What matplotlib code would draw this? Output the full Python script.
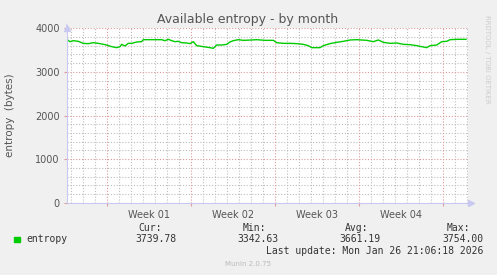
import matplotlib
matplotlib.use("Agg")
import matplotlib.pyplot as plt
import numpy as np

# ---- data ----
days = [0.00, 0.28, 0.55, 0.97, 1.38, 1.80, 2.22, 2.78, 3.33, 3.75, 4.17, 4.44, 4.58, 4.86,
        5.13, 5.42, 5.83, 6.25, 6.38, 6.80, 7.92, 8.19, 8.47, 8.75, 9.03, 9.30, 9.58, 10.00,
        10.28, 10.55, 10.83, 11.38, 11.94, 12.22, 12.50, 12.92, 13.33, 13.61, 13.88, 14.30,
        14.72, 15.28, 15.83, 16.53, 17.22, 17.50, 18.05, 18.61, 19.17, 19.72, 20.13, 20.42,
        21.11, 21.38, 21.94, 22.50, 23.05, 23.61, 24.17, 25.00, 25.55, 25.97, 26.38, 26.94,
        27.50, 28.05, 28.61, 29.17, 29.72, 30.00, 30.28, 30.83, 31.25, 31.67, 31.94, 32.50,
        33.28]
entropy = [3747, 3693, 3716, 3701, 3655, 3648, 3670, 3648, 3617, 3579, 3556, 3579, 3632, 3594,
           3655, 3655, 3686, 3693, 3739, 3739, 3739, 3716, 3747, 3716, 3693, 3701, 3670, 3663,
           3648, 3693, 3602, 3579, 3556, 3541, 3617, 3617, 3632, 3686, 3716, 3739,
           3724, 3730, 3739, 3724, 3724, 3670, 3655, 3655, 3648, 3632, 3602, 3556,
           3556, 3602, 3648, 3678, 3701, 3732, 3739, 3724, 3693, 3732, 3678, 3655,
           3663, 3632, 3625, 3602, 3571, 3556, 3602, 3617, 3693, 3701, 3739, 3747,
           3747]
week_labels = ["Week 01", "Week 02", "Week 03", "Week 04"]
first_week_start = 3.36
span_days = 33.44
y_ticks = [0, 1000, 2000, 3000, 4000]
title = "Available entropy - by month"
ylabel = "entropy  (bytes)"
legend_name = "entropy"
stats_labels = ["Cur:", "Min:", "Avg:", "Max:"]
stats_values = ["3739.78", "3342.63", "3661.19", "3754.00"]
last_update = "Last update: Mon Jan 26 21:06:18 2026"

W, H = 497, 275
fig = plt.figure(figsize=(W / 100, H / 100), dpi=100)
fig.patch.set_facecolor("#f0f0f0")

left_px, right_px, top_px, bottom_px = 66.7, 468, 28.3, 202.7
ax = fig.add_axes([left_px / W, 1 - bottom_px / H, (right_px - left_px) / W, (bottom_px - top_px) / H])
ax.set_facecolor("white")
ax.set_xlim(0, span_days)
ax.set_ylim(0, 4000)

txt = "#555555"
major_col = "#e09a9a"
minor_col = "#bdbdbd"
axis_col = "#c8c8f0"
dots = (0, (1, 1.6))

# grid
minor_x = [first_week_start + k for k in range(-4, 31) if 0 < first_week_start + k < span_days]
major_x = [first_week_start + 7 * k for k in range(5)]
for x in minor_x:
    if min(abs(x - m) for m in major_x) > 0.01:
        ax.axvline(x, color=minor_col, lw=0.8, ls=dots, zorder=1)
for y in range(200, 4000, 200):
    if y % 1000:
        ax.axhline(y, color=minor_col, lw=0.8, ls=dots, zorder=1)
for x in major_x:
    ax.axvline(x, color=major_col, lw=0.8, ls=dots, zorder=1.5)
for y in y_ticks[1:]:
    ax.axhline(y, color=major_col, lw=0.8, ls=dots, zorder=1.5)

ax.plot(days, entropy, color="#00cc00", lw=1.0, zorder=3)

for s in ["top", "right"]:
    ax.spines[s].set_visible(False)
for s in ["left", "bottom"]:
    ax.spines[s].set_color(axis_col)
    ax.spines[s].set_linewidth(0.8)
    ax.spines[s].set_zorder(4)

ax.set_yticks(y_ticks)
ax.set_yticklabels([str(v) for v in y_ticks], fontsize=7, color=txt)
ax.tick_params(axis="y", length=2, color=major_col, pad=3)
ax.set_xticks([first_week_start + 3.5 + 7 * k for k in range(4)])
ax.set_xticklabels(week_labels, fontsize=7, color=txt)
ax.tick_params(axis="x", length=0, pad=5)
ax.set_xticks(major_x, minor=True)
ax.tick_params(axis="x", which="minor", length=2, color=major_col, width=0.8)

# arrows
ax.plot([0], [4000], marker="^", ms=5, color=axis_col, clip_on=False, zorder=5)
ax.annotate("", xy=(0, 4160), xytext=(0, 4000), xycoords="data",
            arrowprops=dict(arrowstyle="-", color=axis_col, lw=0.8), annotation_clip=False)
ax.plot([span_days + 0.25], [0], marker=">", ms=5, color=axis_col, clip_on=False, zorder=5)

ax.set_ylabel(ylabel, fontsize=7.5, color=txt, labelpad=0)
ax.yaxis.set_label_coords(-(left_px - 15.5) / (right_px - left_px), 0.5)

fig.text(248 / W, 1 - 19 / H, title, ha="center", va="center", fontsize=9, color=txt)
fig.text(487 / W, 1 - 15 / H, "RRDTOOL / TOBI OETIKER", rotation=270, ha="center", va="top",
         fontsize=5, color="#cccccc")

mono = "DejaVu Sans Mono"
fig.patches.append(plt.Rectangle((14 / W, 1 - 242 / H), 5.5 / W, 5.5 / H,
                                 transform=fig.transFigure, color="#00cc00"))
fig.text(26 / W, 1 - 239.5 / H, legend_name, ha="left", va="center", fontsize=7, family=mono, color="#333333")
label_right = [162, 266, 368, 470]
value_right = [176, 278, 380, 483]
for lab, val, lr, vr in zip(stats_labels, stats_values, label_right, value_right):
    fig.text(lr / W, 1 - 228 / H, lab, ha="right", va="center", fontsize=7, family=mono, color="#333333")
    fig.text(vr / W, 1 - 239.5 / H, val, ha="right", va="center", fontsize=7, family=mono, color="#333333")
fig.text(483 / W, 1 - 251 / H, last_update, ha="right", va="center", fontsize=7, family=mono, color="#333333")
fig.text(248 / W, 1 - 264 / H, "Munin 2.0.75", ha="center", va="center", fontsize=5, color="#bbbbbb")

fig.savefig("out.png", dpi=100, facecolor=fig.get_facecolor())
